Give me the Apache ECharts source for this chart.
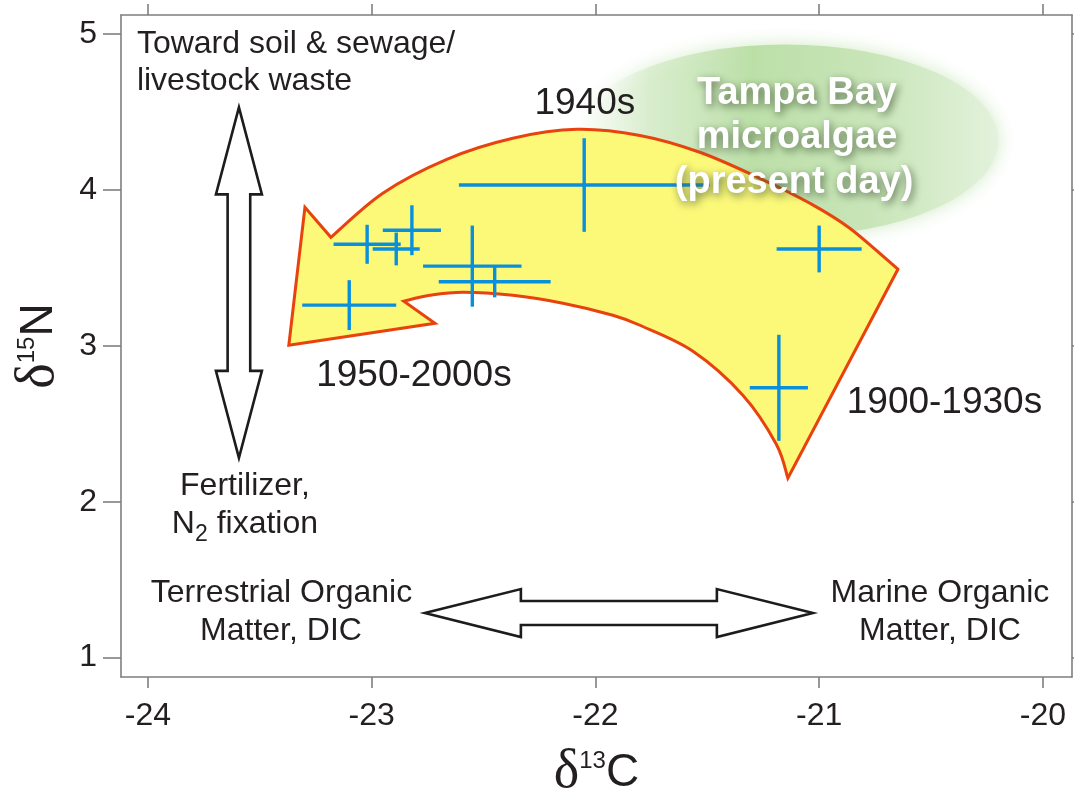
<!DOCTYPE html>
<html>
<head>
<meta charset="utf-8">
<script src="https://cdn.jsdelivr.net/npm/echarts@6/dist/echarts.min.js"></script>
<style>
  html, body { margin: 0; padding: 0; background: #ffffff; }
  #chart { width: 1074px; height: 790px; }
</style>
</head>
<body>
<div id="chart"></div>
<script>
// Sediment organic matter: δ13C vs δ15N, with ±1σ bars in both directions
const d13C    = [-21.18, -21.00, -22.05, -22.45, -22.55, -22.82, -22.89, -23.02, -23.10];
const d15N    = [  2.73,   3.62,   4.03,   3.41,   3.51,   3.74,   3.62,   3.65,   3.26];
const d13CErr = [  0.13,   0.19,   0.56,   0.25,   0.22,   0.13,   0.105,  0.15,   0.21];
const d15NErr = [  0.34,   0.15,   0.30,   0.10,   0.26,   0.16,   0.105,  0.125,  0.16];

// axis ticks and extents
const xTicks = [-24, -23, -22, -21, -20];
const yTicks = [1, 2, 3, 4, 5];
const xRange = [-24.12, -19.87];
const yRange = [0.876, 5.12];

// time-trend arrow outline, in (δ13C, δ15N) units
const trendHead  = [[-23.370, 3.003], [-23.298, 3.887]];
const trendOuter = [[-23.182, 3.695], [-22.950, 3.978], [-22.664, 4.195], [-22.369, 4.330],
                    [-22.083, 4.387], [-21.801, 4.348], [-21.533, 4.240], [-21.265, 4.073],
                    [-21.041, 3.913], [-20.863, 3.753], [-20.648, 3.490]];
const trendInner = [[-21.140, 2.151], [-21.192, 2.370], [-21.341, 2.683], [-21.564, 2.965],
                    [-21.801, 3.131], [-21.922, 3.195], [-22.145, 3.272], [-22.369, 3.323],
                    [-22.592, 3.343], [-22.740, 3.323], [-22.856, 3.285]];
const trendBarb  = [-22.717, 3.144];

// present-day microalgae field
const algaeCenter = [-21.150, 4.316];
const algaeRadius = [0.95, 0.615];

// source-direction arrows
const nitrogenArrow = [[-23.593, 2.281], [-23.593, 4.528]];
const carbonArrow   = [[-22.762, 1.286], [-21.028, 1.286]];

const FONT = '"Liberation Sans", Arial, sans-serif';
const SERIF = '"Liberation Serif", "Times New Roman", serif';
const INK = '#231f20';
const AXIS = '#7f7f7f';

// text annotations placed in data space
const notes = [
  { text: 'Toward soil & sewage/', at: [-24.049, 4.931], align: 'left', size: 32 },
  { text: 'livestock waste',       at: [-24.049, 4.694], align: 'left', size: 32 },
  { text: 'Fertilizer,',           at: [-23.566, 2.100], align: 'center', size: 32 },
  { text: '{t|N}{sub|2}{t| fixation}', at: [-23.566, 1.858], align: 'center', size: 32 },
  { text: 'Terrestrial Organic',   at: [-23.403, 1.415], align: 'center', size: 32 },
  { text: 'Matter, DIC',           at: [-23.405, 1.172], align: 'center', size: 32 },
  { text: 'Marine Organic',        at: [-20.460, 1.415], align: 'center', size: 32 },
  { text: 'Matter, DIC',           at: [-20.460, 1.172], align: 'center', size: 32 },
  { text: '1940s',                 at: [-22.047, 4.550], align: 'center', size: 37 },
  { text: '1950-2000s',            at: [-22.811, 2.808], align: 'center', size: 37 },
  { text: '1900-1930s',            at: [-20.440, 2.635], align: 'center', size: 37 }
];
const algaeNotes = [
  { text: 'Tampa Bay',     at: [-21.099, 4.618] },
  { text: 'microalgae',    at: [-21.099, 4.336] },
  { text: '(present day)', at: [-21.112, 4.047] }
];

// Catmull-Rom run through pixel points, as cubic Bezier path commands
function smoothRun(pts) {
  let d = '';
  for (let i = 0; i < pts.length - 1; i++) {
    const p0 = pts[i - 1] || pts[i], p1 = pts[i], p2 = pts[i + 1], p3 = pts[i + 2] || pts[i + 1];
    const c1 = [p1[0] + (p2[0] - p0[0]) / 6, p1[1] + (p2[1] - p0[1]) / 6];
    const c2 = [p2[0] - (p3[0] - p1[0]) / 6, p2[1] - (p3[1] - p1[1]) / 6];
    d += ' C ' + c1.join(' ') + ' ' + c2.join(' ') + ' ' + p2.join(' ');
  }
  return d;
}

// hollow double-headed arrow outline between two pixel points
function doubleArrow(a, b, headLen, headHalf, shaftHalf) {
  const dx = b[0] - a[0], dy = b[1] - a[1];
  const len = Math.hypot(dx, dy);
  const u = [dx / len, dy / len], n = [-u[1], u[0]];
  const at = (p, s, t) => [p[0] + u[0] * s + n[0] * t, p[1] + u[1] * s + n[1] * t];
  return [
    a, at(a, headLen, headHalf), at(a, headLen, shaftHalf),
    at(b, -headLen, shaftHalf), at(b, -headLen, headHalf), b,
    at(b, -headLen, -headHalf), at(b, -headLen, -shaftHalf),
    at(a, headLen, -shaftHalf), at(a, headLen, -headHalf)
  ];
}

const anchor = [[xTicks[0], yTicks[0]]];

const chart = echarts.init(document.getElementById('chart'));

const axisCommon = {
  type: 'value',
  splitLine: { show: false },
  axisLine: { show: true, onZero: false, lineStyle: { color: AXIS, width: 1.6 } }
};
const nameRich = {
  d: { fontFamily: SERIF, fontSize: 54, color: INK },
  s: { fontFamily: FONT, fontSize: 24, color: INK, padding: [0, 0, 24, 0] },
  c: { fontFamily: FONT, fontSize: 46, color: INK }
};

chart.setOption({
  animation: false,
  backgroundColor: '#ffffff',
  grid: { left: 121, right: 2, top: 15, bottom: 113, containLabel: false, outerBoundsMode: 'none' },
  xAxis: [
    Object.assign({}, axisCommon, {
      position: 'bottom', min: xRange[0], max: xRange[1],
      axisTick: { show: true, inside: false, length: 11, customValues: xTicks, lineStyle: { color: AXIS, width: 1.6 } },
      axisLabel: { customValues: xTicks, margin: 23, fontSize: 32, fontFamily: FONT, color: INK },
      name: '{d|δ}{s|13}{c|C}',
      nameLocation: 'middle',
      nameGap: 69,
      nameTextStyle: { rich: nameRich }
    }),
    Object.assign({}, axisCommon, {
      position: 'top', min: xRange[0], max: xRange[1],
      axisTick: { show: true, inside: false, length: 11, customValues: xTicks, lineStyle: { color: AXIS, width: 1.6 } },
      axisLabel: { show: false }
    })
  ],
  yAxis: [
    Object.assign({}, axisCommon, {
      position: 'left', min: yRange[0], max: yRange[1],
      axisTick: { show: true, inside: false, length: 18, customValues: yTicks, lineStyle: { color: AXIS, width: 1.6 } },
      axisLabel: { customValues: yTicks, margin: 24, fontSize: 32, fontFamily: FONT, color: INK },
      name: '{d|δ}{s|15}{c|N}',
      nameLocation: 'middle',
      nameRotate: 90,
      nameGap: 55,
      nameTextStyle: { rich: nameRich }
    }),
    Object.assign({}, axisCommon, {
      position: 'right', min: yRange[0], max: yRange[1],
      axisTick: { show: true, inside: false, length: 8, customValues: yTicks, lineStyle: { color: AXIS, width: 1.6 } },
      axisLabel: { show: false }
    })
  ],
  series: [
    {
      // soft green field behind the present-day label
      type: 'custom', name: 'algae field', z: 1, silent: true,
      data: anchor,
      renderItem: function (params, api) {
        const c = api.coord(algaeCenter);
        const e = api.coord([algaeCenter[0] + algaeRadius[0], algaeCenter[1] + algaeRadius[1]]);
        const rx = e[0] - c[0], ry = c[1] - e[1];
        return {
          type: 'circle',
          x: c[0], y: c[1], scaleX: rx / ry, scaleY: 1,
          shape: { cx: 0, cy: 0, r: ry },
          style: {
            fill: new echarts.graphic.LinearGradient(0, 0, 1, 0, [
              { offset: 0.00, color: 'rgba(255,255,255,0)' },
              { offset: 0.18, color: 'rgba(214,236,202,0.75)' },
              { offset: 0.42, color: '#bcdfa8' },
              { offset: 0.70, color: '#c8e5b8' },
              { offset: 1.00, color: '#e3f2dc' }
            ]),
            shadowBlur: 18,
            shadowColor: 'rgba(205,232,192,0.9)'
          }
        };
      }
    },
    {
      // curved yellow trend arrow
      type: 'custom', name: 'trend', z: 2, silent: true,
      data: anchor,
      renderItem: function (params, api) {
        const c = p => api.coord(p);
        const head = trendHead.map(c), outer = trendOuter.map(c), inner = trendInner.map(c), barb = c(trendBarb);
        const d = 'M ' + head[0].join(' ') + ' L ' + head[1].join(' ') +
          ' L ' + outer[0].join(' ') + smoothRun(outer) +
          ' L ' + inner[0].join(' ') + smoothRun(inner) +
          ' L ' + barb.join(' ') + ' Z';
        return {
          type: 'path',
          shape: { pathData: d },
          style: { fill: '#fcf978', stroke: '#e8430e', lineWidth: 3, lineJoin: 'miter' }
        };
      }
    },
    {
      // hollow source arrows for N and C end-members
      type: 'custom', name: 'sources', z: 2, silent: true,
      data: anchor,
      renderItem: function (params, api) {
        const n0 = api.coord(nitrogenArrow[0]), n1 = api.coord(nitrogenArrow[1]);
        const c0 = api.coord(carbonArrow[0]), c1 = api.coord(carbonArrow[1]);
        const style = { fill: '#ffffff', stroke: '#1c1c1c', lineWidth: 2.6, lineJoin: 'miter' };
        return {
          type: 'group',
          children: [
            { type: 'polygon', shape: { points: doubleArrow(n0, n1, 87, 23, 11.3) }, style: style },
            { type: 'polygon', shape: { points: doubleArrow(c0, c1, 96, 24, 12) }, style: style }
          ]
        };
      }
    },
    {
      // error-bar crosses
      type: 'custom', name: 'samples', z: 3, silent: true,
      data: d13C.map((x, i) => [x, d15N[i], d13CErr[i], d15NErr[i]]),
      encode: { x: 0, y: 1 },
      renderItem: function (params, api) {
        const x = api.value(0), y = api.value(1), ex = api.value(2), ey = api.value(3);
        const l = api.coord([x - ex, y]), r = api.coord([x + ex, y]);
        const t = api.coord([x, y + ey]), b = api.coord([x, y - ey]);
        const style = { stroke: '#0a8fdc', lineWidth: 3.4, lineCap: 'butt' };
        return {
          type: 'group',
          children: [
            { type: 'line', shape: { x1: l[0], y1: l[1], x2: r[0], y2: r[1] }, style: style },
            { type: 'line', shape: { x1: t[0], y1: t[1], x2: b[0], y2: b[1] }, style: style }
          ]
        };
      }
    },
    {
      // text annotations
      type: 'custom', name: 'notes', z: 4, silent: true,
      data: anchor,
      renderItem: function (params, api) {
        const children = notes.map(n => {
          const p = api.coord(n.at);
          return {
            type: 'text', x: p[0], y: p[1],
            style: {
              text: n.text, align: n.align, verticalAlign: 'middle',
              fontFamily: FONT, fontSize: n.size, fill: INK,
              rich: {
                t: { fontFamily: FONT, fontSize: n.size, fill: INK, color: INK },
                sub: { fontFamily: FONT, fontSize: 23, fill: INK, color: INK, padding: [22, 0, 0, 0] }
              }
            }
          };
        });
        algaeNotes.forEach(n => {
          const p = api.coord(n.at);
          children.push({
            type: 'text', x: p[0], y: p[1],
            style: {
              text: n.text, align: 'center', verticalAlign: 'middle',
              fontFamily: FONT, fontWeight: 'bold', fontSize: 38, fill: '#ffffff',
              textShadowColor: 'rgba(70,92,58,0.85)', textShadowBlur: 9,
              textShadowOffsetX: 2, textShadowOffsetY: 3
            }
          });
        });
        return { type: 'group', children: children };
      }
    }
  ]
});
</script>
</body>
</html>
